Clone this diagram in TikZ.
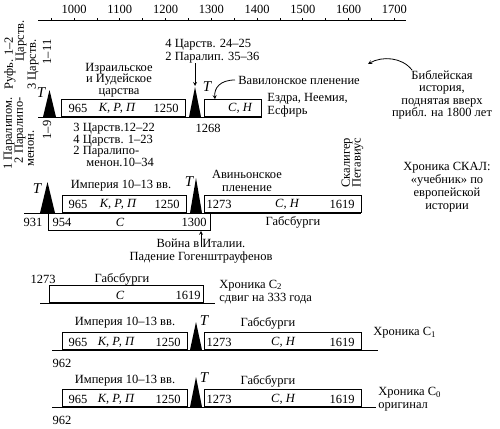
\documentclass[tikz,border=0pt]{standalone}
\usepackage{fontspec}
\setmainfont{Liberation Serif}
\usetikzlibrary{positioning}

\begin{document}
\begin{tikzpicture}[
  x=1pt, y=-1pt, line width=0.8pt,
  every node/.style={inner sep=0pt, font=\fontsize{12.5}{12.5}\selectfont},
  box/.style={draw, minimum height=17pt, inner sep=0pt},
  tletter/.style={font=\fontsize{15}{15}\selectfont\itshape},
  vert/.style={rotate=90}
]
\useasboundingbox (0,0) rectangle (500,428);

\draw (38,20) -- (406,20);
\foreach \k in {0,...,15}
  \draw[line width=0.5pt] (51+22.875*\k,18.5) -- (51+22.875*\k,21.5);
\foreach \yr [count=\i from 0] in {1000,1100,...,1700}
  \node (yr\yr) at (74+45.75*\i,9) {\yr};

\node[vert, anchor=west] (ruth) at (10,90) {Руфь. 1–2};
\node[vert, anchor=east] (kings12) at (21,20) {Царств.};
\node[vert, anchor=west] (kings3) at (33,90) {3 Царств.};
\node[vert] (kings3n) at (47,52) {1–11};
\node[vert, anchor=east] (chron1) at (9,97) {1 Паралипом.};
\node[vert, anchor=east] (chron2) at (20,97) {2 Паралипо-};
\node[vert, anchor=west] (chron2b) at (31,167) {менон.};
\node[vert] (chron2n) at (47,130) {1–9};

\draw (38,117) -- (262,117);
\fill (43,117) -- (49.5,90) -- (56,117) -- cycle;
\fill (189,117) -- (195,87) -- (201,117) -- cycle;
\coordinate (apex2) at (195,87);
\node[tletter] (t1) at (41,93) {T};
\node[tletter] (t2) at (207,87) {T};
\node[box, minimum width=124pt, anchor=south west] (israel) at (61,117) {};
\node (israel965) at (78,108) {965};
\node (israelkrp) at (117,108) {\itshape К, Р, П};
\node (israel1250) at (166,108) {1250};
\node[box, minimum width=57pt, anchor=south west] (babylon) at (204,117) {};
\node (babylonsn) at (240,108) {\itshape С, Н};
\node (y1268) at (208,128) {1268};
\node[align=center, font=\fontsize{12.5}{11.6}\selectfont] (israeltext) at (119,80)
  {Израильское\\и Иудейское\\царства};
\node[align=left, anchor=west, font=\fontsize{12.5}{11.6}\selectfont] (kings12b) at (73,145)
  {3 Царств.12–22\\4 Царств. 1–23\\2 Паралипо-\\\hspace*{13pt}менон.10–34};
\node[align=left, anchor=west] (kings4) at (165,51) {4 Царств. 24–25\\2 Паралип. 35–36};
\draw[-stealth, shorten >=1pt] (kings4.south -| apex2) -- (apex2);
\node[anchor=west] (babtext) at (238,80) {Вавилонское пленение};
\draw[-stealth] ([xshift=-3pt]babtext.west) .. controls (220,80) and (214,88) .. ([xshift=11pt]babylon.north west);
\node[align=left, anchor=west] (ezra) at (267,105) {Ездра, Неемия,\\Есфирь};
\node[align=center] (bible) at (442,95) {Библейская\\история,\\поднятая вверх\\прибл. на 1800 лет};
\coordinate (liftend) at (368,64);
\draw[-stealth] ([xshift=-30pt]bible.north) .. controls (402,57) and (382,56) .. (liftend);

\draw (24,213) -- (361,213);
\fill (40,213) -- (47.5,182) -- (55,213) -- cycle;
\fill (190,213) -- (196,178) -- (202,213) -- cycle;
\node[tletter] (t3) at (37,189) {T};
\node[tletter] (t4) at (189,182) {T};
\node[box, minimum width=162pt, anchor=north west] (scal) at (48,213) {};
\node (y931) at (33,222) {931};
\node (scal954) at (62,222) {954};
\node (scalc) at (120,222) {\itshape С};
\node (scal1300) at (194,222) {1300};
\node[box, minimum width=124pt, anchor=south west] (empire2) at (62,213) {};
\node (empire2a) at (78,204) {965};
\node (empire2b) at (118,204) {\itshape К, Р, П};
\node (empire2c) at (167,204) {1250};
\node[box, minimum width=157pt, anchor=south west] (avignon) at (204,213) {};
\node (avignona) at (219,204) {1273};
\node (avignonb) at (287,204) {\itshape С, Н};
\node (avignonc) at (342,204) {1619};
\node (empire2t) at (121,186) {Империя 10–13 вв.};
\node[align=center] (avignont) at (247,181) {Авиньонское\\пленение};
\node (habs2t) at (293,222) {Габсбурги};
\node[vert, anchor=west] (scaliger) at (347,188) {Скалигер};
\node[vert, anchor=west] (petavius) at (358,188) {Петавиус};
\node[align=center, font=\fontsize{12.5}{13}\selectfont] (skal) at (447,187)
  {Хроника СКАЛ:\\«учебник» по\\европейской\\истории};
\node[align=center] (war) at (201,251) {Война в Италии.\\Падение Гогенштрауфенов};
\draw[-stealth] ([yshift=4pt]war.center) -- (war.center |- scal.south);

\node (c2y) at (43,279) {1273};
\node (c2t) at (122,279) {Габсбурги};
\draw (40,303) -- (215,303);
\node[box, minimum width=154pt, anchor=south west] (habs3) at (49,303) {};
\node (habs3c) at (120,295) {\itshape С};
\node (habs3y) at (188,295) {1619};
\node[align=left, anchor=west, font=\fontsize{12.5}{13.5}\selectfont] (c2) at (219,292)
  {Хроника С\textsubscript{2}\\сдвиг на 333 года};

\draw (52,350) -- (378,350);
\fill (190,350) -- (196,322) -- (202,350) -- cycle;
\node[tletter] (t5) at (204,321) {T};
\node[box, minimum width=125pt, anchor=south west] (empire4) at (62,350) {};
\node (empire4a) at (78,342) {965};
\node (empire4b) at (116,342) {\itshape К, Р, П};
\node (empire4c) at (168,342) {1250};
\node[box, minimum width=157pt, anchor=south west] (habs4) at (204,350) {};
\node (habs4a) at (219,342) {1273};
\node (habs4b) at (283,342) {\itshape С, Н};
\node (habs4c) at (342,342) {1619};
\node (empire4t) at (125,323) {Империя 10–13 вв.};
\node (habs4t) at (268,323) {Габсбурги};
\node (c1y) at (62,363) {962};
\node[anchor=west] (c1) at (373,333) {Хроника С\textsubscript{1}};

\draw (52,407) -- (376,407);
\fill (190,407) -- (196,377) -- (202,407) -- cycle;
\node[tletter] (t6) at (204,378) {T};
\node[box, minimum width=125pt, anchor=south west] (empire5) at (62,407) {};
\node (empire5a) at (78,399) {965};
\node (empire5b) at (116,399) {\itshape К, Р, П};
\node (empire5c) at (168,399) {1250};
\node[box, minimum width=157pt, anchor=south west] (habs5) at (204,407) {};
\node (habs5a) at (219,399) {1273};
\node (habs5b) at (283,399) {\itshape С, Н};
\node (habs5c) at (342,399) {1619};
\node (empire5t) at (125,381) {Империя 10–13 вв.};
\node (habs5t) at (268,381) {Габсбурги};
\node (c0y) at (62,420) {962};
\node[anchor=west] (c0) at (378,393) {Хроника С\textsubscript{0}};
\node[anchor=west] (c0b) at (378,407) {оригинал};
\end{tikzpicture}
\end{document}
